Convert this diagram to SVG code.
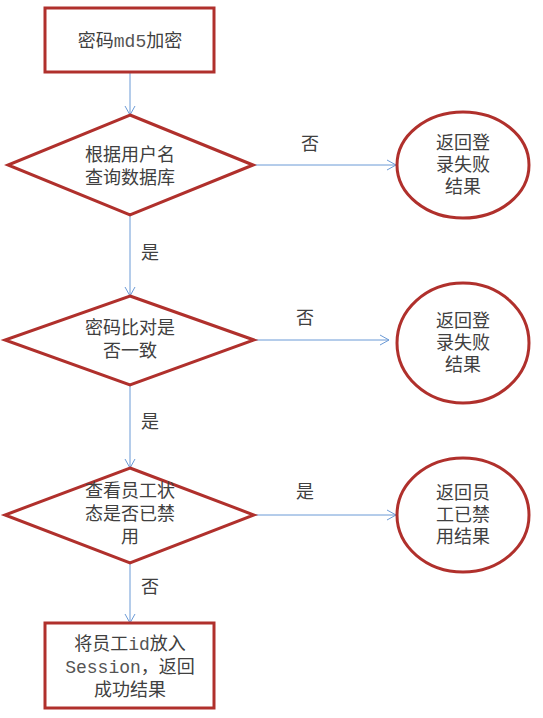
<svg xmlns="http://www.w3.org/2000/svg" width="543" height="718" viewBox="0 0 543 718">
<defs>
<marker id="arr" markerWidth="12" markerHeight="12" refX="10" refY="6" orient="auto" markerUnits="userSpaceOnUse">
<path d="M1,1 L10,6 L1,11" fill="none" stroke="#6B9AD6" stroke-width="1"/>
</marker>
<style>
.shape{fill:#fff;stroke:#B0302C;stroke-width:3}
.t{font-family:"Noto Sans CJK SC","Noto Sans",sans-serif;font-size:18px;fill:#404040;text-anchor:middle}
.m{font-family:"Liberation Mono",monospace;fill:#555}
.c{fill:none;stroke:#6B9AD6;stroke-width:1}
</style>
</defs>
<rect width="543" height="718" fill="#fff"/>
<g id="connectors">
<line class="c" x1="130" y1="72" x2="130" y2="115" marker-end="url(#arr)"/>
<line class="c" x1="253" y1="165" x2="396" y2="165" marker-end="url(#arr)"/>
<line class="c" x1="130" y1="215" x2="130" y2="296" marker-end="url(#arr)"/>
<line class="c" x1="254" y1="340" x2="389" y2="340" marker-end="url(#arr)"/>
<line class="c" x1="130" y1="385" x2="130" y2="468" marker-end="url(#arr)"/>
<line class="c" x1="254" y1="515" x2="396" y2="515" marker-end="url(#arr)"/>
<line class="c" x1="130" y1="563" x2="130" y2="623" marker-end="url(#arr)"/>
<text class="t" x="310" y="150">否</text>
<text class="t" x="150" y="259">是</text>
<text class="t" x="305" y="324">否</text>
<text class="t" x="150" y="428">是</text>
<text class="t" x="305" y="498">是</text>
<text class="t" x="150" y="593">否</text>
</g>
<g id="n1">
<rect class="shape" x="45" y="8" width="169" height="64"/>
<text class="t" x="130" y="47">密码<tspan class="m">md5</tspan>加密</text>
</g>
<g id="n2">
<polygon class="shape" points="130,115 253,165 130,215 8,165"/>
<text class="t" x="130" y="161">根据用户名<tspan x="130" dy="23">查询数据库</tspan></text>
</g>
<g id="n3">
<ellipse class="shape" cx="463" cy="165" rx="66" ry="53"/>
<text class="t" x="463" y="149">返回登<tspan x="463" dy="22">录失败</tspan><tspan x="463" dy="22">结果</tspan></text>
</g>
<g id="n4">
<polygon class="shape" points="130,296 254,340 130,385 5,340"/>
<text class="t" x="130" y="334">密码比对是<tspan x="130" dy="23">否一致</tspan></text>
</g>
<g id="n5">
<ellipse class="shape" cx="463" cy="343" rx="66" ry="60"/>
<text class="t" x="463" y="327">返回登<tspan x="463" dy="22">录失败</tspan><tspan x="463" dy="22">结果</tspan></text>
</g>
<g id="n6">
<polygon class="shape" points="130,468 254,515 130,563 5,515"/>
<text class="t" x="130" y="497">查看员工状<tspan x="130" dy="23">态是否已禁</tspan><tspan x="130" dy="23">用</tspan></text>
</g>
<g id="n7">
<ellipse class="shape" cx="463" cy="515" rx="66" ry="57"/>
<text class="t" x="463" y="499">返回员<tspan x="463" dy="22">工已禁</tspan><tspan x="463" dy="22">用结果</tspan></text>
</g>
<g id="n8">
<rect class="shape" x="45" y="623" width="169" height="85"/>
<text class="t" x="130" y="650">将员工<tspan class="m">id</tspan>放入<tspan x="130" dy="23"><tspan class="m">Session</tspan>，返回</tspan><tspan x="130" dy="23">成功结果</tspan></text>
</g>
</svg>
